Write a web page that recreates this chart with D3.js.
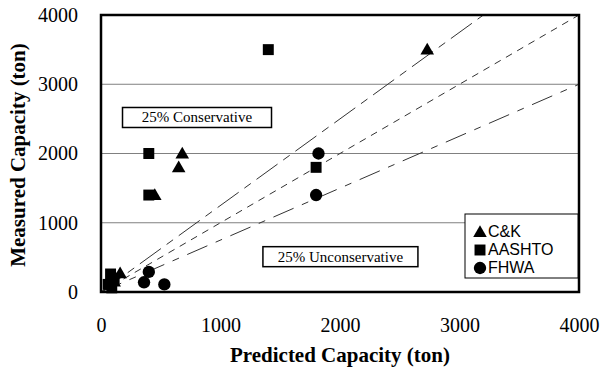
<!DOCTYPE html>
<html>
<head>
<meta charset="utf-8">
<script src="https://cdn.jsdelivr.net/npm/d3@7"></script>
<style>
  body { margin: 0; background: #fff; }
  svg { display: block; }
</style>
</head>
<body>
<div id="chart"></div>
<script>
// values (ton)
var ckPts = [[2730, 3500], [680, 2000], [650, 1800], [450, 1400], [160, 270], [110, 150]];
var aashtoPts = [[1400, 3500], [400, 2000], [400, 1400], [1800, 1800], [80, 260], [110, 200], [60, 110], [90, 60]];
var fhwaPts = [[1820, 2000], [1800, 1400], [400, 290], [360, 140], [530, 110]];
var ratioLines = [1.25, 1.0, 0.75];
var xTicks = [0, 1000, 2000, 3000, 4000];
var yTicks = [0, 1000, 2000, 3000, 4000];
var gridVals = [1000, 2000, 3000];
var legendNames = ["C&K", "AASHTO", "FHWA"];

var margin = {top: 15, right: 20, bottom: 80, left: 101},
    width = 579 - margin.left,
    height = 292 - margin.top;

var svg = d3.select("#chart")
  .append("svg")
  .attr("width", 601)
  .attr("height", 372)
  .append("g")
  .attr("transform", "translate(" + margin.left + "," + margin.top + ")");

var x = d3.scaleLinear().domain([0, 4000]).range([0, width]);
var y = d3.scaleLinear().domain([0, 4000]).range([height, 0]);

// grid
svg.selectAll(".grid")
  .data(gridVals)
  .enter()
  .append("line")
    .attr("x1", 0).attr("x2", width)
    .attr("y1", function(d){ return y(d); })
    .attr("y2", function(d){ return y(d); })
    .attr("stroke", "#808080")
    .attr("stroke-width", 1);

svg.append("clipPath").attr("id", "clip")
  .append("rect").attr("width", width).attr("height", height);

// ratio lines through origin
var dashes = ["26,7,8,7", "7,6", "22,9,7,9"];
svg.selectAll(".ratio")
  .data(ratioLines)
  .enter()
  .append("line")
    .attr("clip-path", "url(#clip)")
    .attr("x1", x(0)).attr("y1", y(0))
    .attr("x2", x(4000)).attr("y2", function(d){ return y(4000 * d); })
    .attr("stroke", "#333")
    .attr("stroke-width", 1)
    .attr("stroke-dasharray", function(d, i){ return dashes[i]; });

// annotation boxes
var notes = [
  {text: "25% Conservative", p: 180, m: 2520, w: 149},
  {text: "25% Unconservative", p: 1355, m: 510, w: 155}
];
notes.forEach(function(n){
  var g = svg.append("g").attr("transform", "translate(" + x(n.p) + "," + y(n.m) + ")");
  g.append("rect")
    .attr("x", 0).attr("y", -10)
    .attr("width", n.w).attr("height", 20)
    .attr("fill", "#fff").attr("stroke", "#000").attr("stroke-width", 1.5);
  g.append("text")
    .attr("x", n.w / 2).attr("y", 5)
    .attr("text-anchor", "middle")
    .style("font-family", "'Liberation Serif', 'Times New Roman', serif")
    .style("font-size", "15px")
    .text(n.text);
});

var tri = d3.symbol().type(d3.symbolTriangle).size(80);
var sq = d3.symbol().type(d3.symbolSquare).size(120);
var circ = d3.symbol().type(d3.symbolCircle).size(120);

svg.selectAll(".sq")
  .data(aashtoPts).enter().append("path")
    .attr("d", sq)
    .attr("transform", function(d){ return "translate(" + x(d[0]) + "," + y(d[1]) + ")"; })
    .attr("fill", "#000");

svg.selectAll(".tri")
  .data(ckPts).enter().append("path")
    .attr("d", tri)
    .attr("transform", function(d){ return "translate(" + x(d[0]) + "," + (y(d[1]) + 1) + ")"; })
    .attr("fill", "#000");

svg.selectAll(".circ")
  .data(fhwaPts).enter().append("path")
    .attr("d", circ)
    .attr("transform", function(d){ return "translate(" + x(d[0]) + "," + y(d[1]) + ")"; })
    .attr("fill", "#000");

// frame
svg.append("rect")
  .attr("width", width).attr("height", height)
  .attr("fill", "none").attr("stroke", "#000").attr("stroke-width", 2.5);

// axes (labels only)
var xAxis = svg.append("g")
  .attr("transform", "translate(0," + height + ")")
  .call(d3.axisBottom(x).tickValues(xTicks).tickFormat(d3.format("d")).tickSize(0).tickPadding(26));
var yAxis = svg.append("g")
  .call(d3.axisLeft(y).tickValues(yTicks).tickFormat(d3.format("d")).tickSize(0).tickPadding(23));
[xAxis, yAxis].forEach(function(a){
  a.select(".domain").remove();
  a.selectAll("text")
    .style("font-family", "'Liberation Serif', 'Times New Roman', serif")
    .style("font-size", "20px")
    .attr("fill", "#000");
});

// legend
var lg = svg.append("g").attr("transform", "translate(" + (465 - margin.left) + "," + (214 - margin.top) + ")");
lg.append("rect")
  .attr("width", 113).attr("height", 64)
  .attr("fill", "#fff").attr("stroke", "#000").attr("stroke-width", 1);
var syms = [tri, sq, circ];
legendNames.forEach(function(name, i){
  lg.append("path")
    .attr("d", syms[i])
    .attr("transform", "translate(15," + (18 + i * 18 + (i === 0 ? 1 : 0)) + ")")
    .attr("fill", "#000");
  lg.append("text")
    .attr("x", 23).attr("y", 18 + i * 18 + 5)
    .style("font-family", "'Liberation Sans Narrow', 'Liberation Sans', Arial, sans-serif")
    .style("font-size", "16px")
    .text(name);
});

// axis titles
svg.append("text")
  .attr("x", width / 2).attr("y", height + 70)
  .attr("text-anchor", "middle")
  .style("font-family", "'Liberation Serif', 'Times New Roman', serif")
  .style("font-weight", "bold")
  .style("font-size", "21px")
  .text("Predicted Capacity (ton)");

svg.append("text")
  .attr("transform", "rotate(-90)")
  .attr("x", -(155 - margin.top)).attr("y", 25 - margin.left)
  .attr("text-anchor", "middle")
  .style("font-family", "'Liberation Serif', 'Times New Roman', serif")
  .style("font-weight", "bold")
  .style("font-size", "21px")
  .text("Measured Capacity (ton)");
</script>
</body>
</html>
